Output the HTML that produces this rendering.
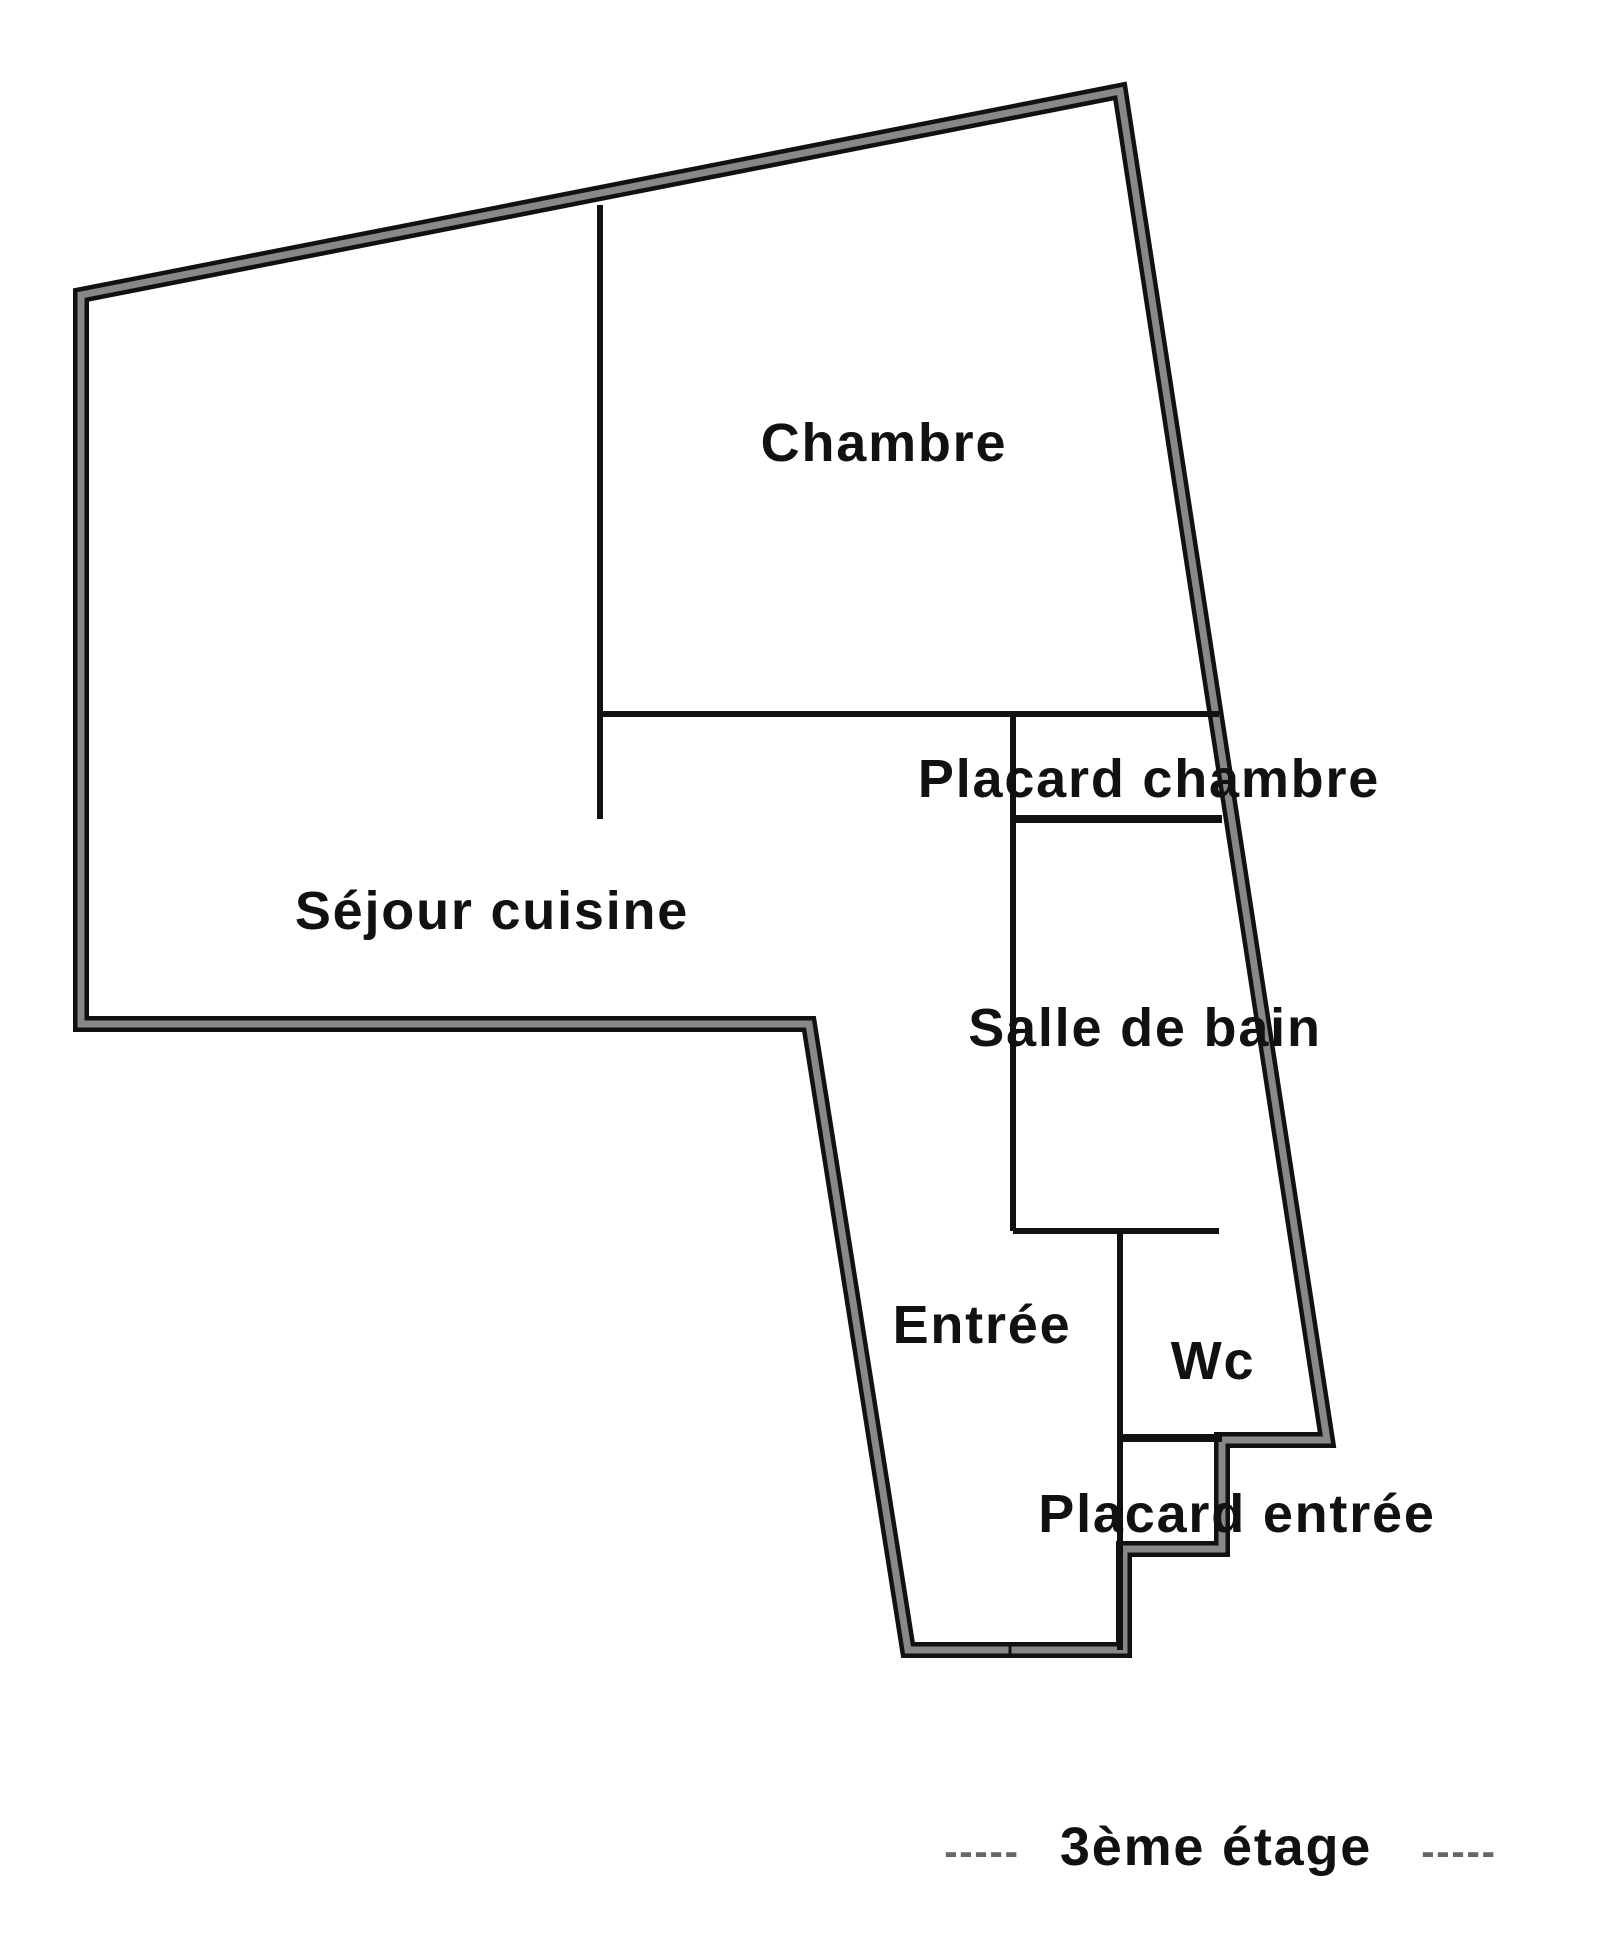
<!DOCTYPE html>
<html><head><meta charset="utf-8"><style>
html,body{margin:0;padding:0;background:#fff;}
svg{display:block;}
text{font-family:"Liberation Sans",sans-serif;font-weight:bold;fill:#111;text-anchor:middle;dominant-baseline:central;letter-spacing:1.8px;}
</style></head><body>
<svg width="1600" height="1936" viewBox="0 0 1600 1936" xmlns="http://www.w3.org/2000/svg">
<rect width="1600" height="1936" fill="#fff"/>
<g fill="none" stroke-linejoin="miter" stroke-linecap="square">
<polygon points="81,295 1120,91 1327,1440 1222,1440 1222,1549 1124,1549 1124,1650 908,1650 809,1024 81,1024" stroke="#111" stroke-width="16"/>
<polygon points="81,295 1120,91 1327,1440 1222,1440 1222,1549 1124,1549 1124,1650 908,1650 809,1024 81,1024" stroke="#888" stroke-width="7"/>
</g>
<g stroke="#111" stroke-width="6" fill="none">
<line x1="600" y1="205" x2="600" y2="819"/>
<line x1="600" y1="714" x2="1219" y2="714"/>
<line x1="1013" y1="714" x2="1013" y2="1231"/>
<line x1="1013" y1="819" x2="1222" y2="819" stroke-width="8"/>
<line x1="1013" y1="1231" x2="1219" y2="1231"/>
<line x1="1120" y1="1231" x2="1120" y2="1650"/>
<line x1="1120" y1="1438" x2="1222" y2="1438" stroke-width="8"/>
<line x1="1010" y1="1644" x2="1010" y2="1656" stroke-width="3"/>
</g>
<text x="884" y="443" font-size="54">Chambre</text>
<text x="1149" y="779" font-size="54">Placard chambre</text>
<text x="492" y="911" font-size="54">Séjour cuisine</text>
<text x="1145" y="1028" font-size="54">Salle de bain</text>
<text x="982" y="1325" font-size="54">Entrée</text>
<text x="1213" y="1361" font-size="54">Wc</text>
<text x="1237" y="1514" font-size="54">Placard entrée</text>
<text x="1216" y="1847" font-size="54">3ème étage</text>
<text x="982" y="1852" font-size="40" style="fill:#666">-----</text>
<text x="1459" y="1852" font-size="40" style="fill:#666">-----</text>
</svg>
</body></html>
